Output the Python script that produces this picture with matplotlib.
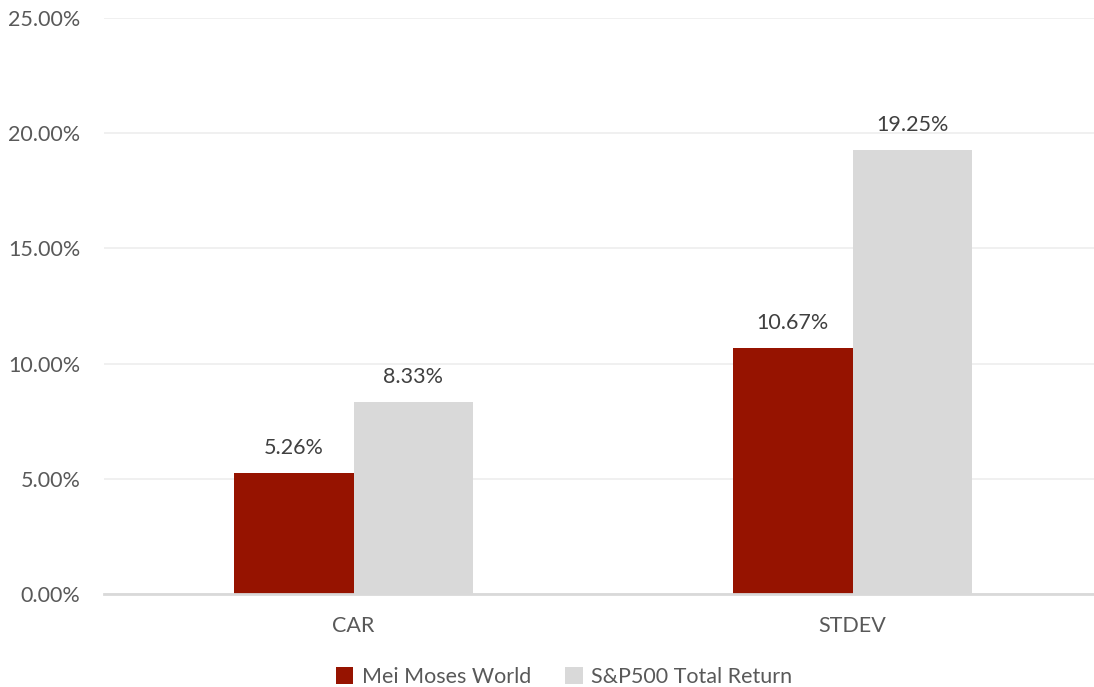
import matplotlib
matplotlib.use("Agg")
import matplotlib.pyplot as plt
import numpy as np

categories = ["CAR", "STDEV"]
series_names = ["Mei Moses World", "S&P500 Total Return"]
mei_moses = [5.26, 10.67]
sp500 = [8.33, 19.25]
colors = ["#961300", "#d9d9d9"]

plt.rcParams['font.family'] = ['Lato', 'DejaVu Sans']
text_color = "#595959"

fig = plt.figure(figsize=(10.94, 6.87), dpi=100)
ax = fig.add_axes([104/1094, 1-594/687, (1102-104)/1094, (594-18)/687])

x = np.arange(len(categories))
w = 0.239
b1 = ax.bar(x - w/2, mei_moses, w, color=colors[0], label=series_names[0], zorder=3)
b2 = ax.bar(x + w/2, sp500, w, color=colors[1], label=series_names[1], zorder=3)

for bars, vals in ((b1, mei_moses), (b2, sp500)):
    for r, v in zip(bars, vals):
        ax.annotate(f"{v:.2f}%", (r.get_x() + r.get_width()/2, v),
                    xytext=(0, 11), textcoords="offset points",
                    ha="center", va="bottom", fontsize=15.5, color="#404040")

ax.set_xlim(-0.5, 1.5)
ax.set_ylim(0, 25)
ax.set_yticks(np.arange(0, 25.01, 5))
ax.set_yticklabels([f"{t:.2f}%" for t in np.arange(0, 25.01, 5)])
ax.set_xticks(x)
ax.set_xticklabels(categories)
ax.tick_params(axis='both', length=0, labelsize=15.5, colors=text_color)
ax.tick_params(axis='y', pad=17)
ax.tick_params(axis='x', pad=16)
ax.grid(axis='y', color="#ededed", linewidth=1.2, zorder=0)
for s in ("top", "right", "left"):
    ax.spines[s].set_visible(False)
ax.spines["bottom"].set_color("#d9d9d9")
ax.spines["bottom"].set_linewidth(2)
ax.spines["bottom"].set_zorder(4)

leg = fig.legend(loc="center", bbox_to_anchor=(564/1094, 1-677/687), ncol=2,
                 frameon=False, fontsize=15.5, handlelength=0.8, handleheight=0.8,
                 handletextpad=0.4, columnspacing=1.6)
for t in leg.get_texts():
    t.set_color(text_color)

fig.savefig("out.png", dpi=100)
